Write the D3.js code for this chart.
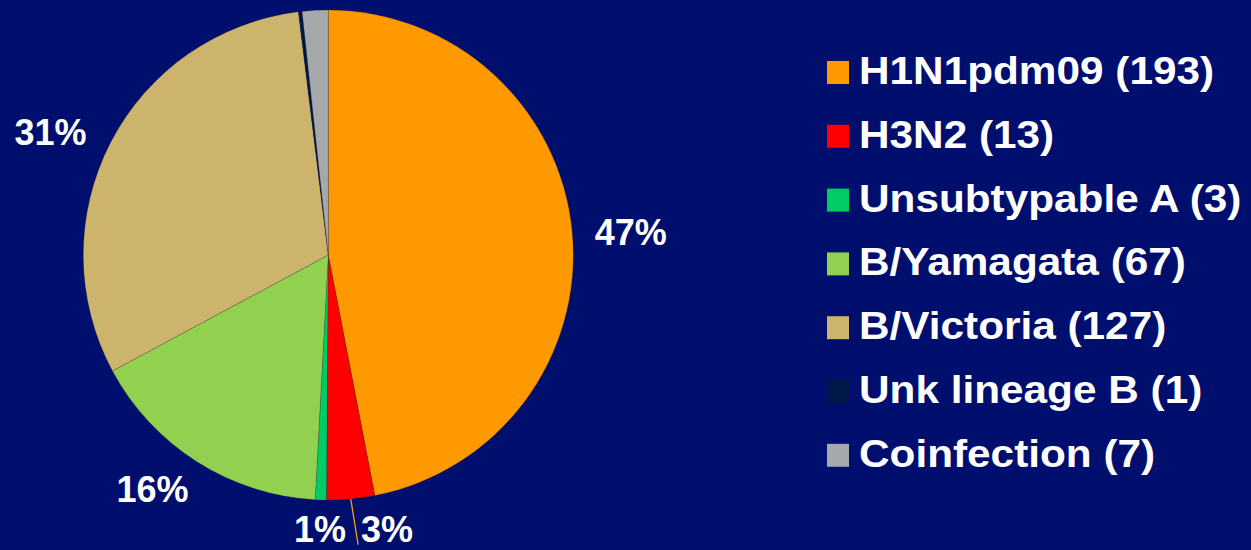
<!DOCTYPE html>
<html>
<head>
<meta charset="utf-8">
<script src="https://cdn.jsdelivr.net/npm/d3@7"></script>
<style>
  html, body { margin: 0; padding: 0; background: #000E6E; }
  svg { display: block; }
  text { font-family: Arial, "Liberation Sans", sans-serif; font-weight: bold; fill: #fff; }
</style>
</head>
<body>
<svg id="chart" width="1251" height="550"></svg>
<script>
// Influenza subtype counts
const categories = ["H1N1pdm09", "H3N2", "Unsubtypable A", "B/Yamagata", "B/Victoria", "Unk lineage B", "Coinfection"];
const counts     = [193, 13, 3, 67, 127, 1, 7];
const colors     = ["#FF9900", "#FF0000", "#00CC66", "#92D050", "#CDB46C", "#001848", "#A5A9A9"];
// which slices carry a percentage label
const showLabel  = [true, true, true, true, true, false, false];
// hand-placed offsets for the percentage labels (layout only)
const labelNudge = [[0, 6], [31, -29], [1, -30], [-13, -22], [-8, 17], [0, 0], [0, 0]];

const W = 1251, H = 550;
const cx = 328.3, cy = 255, R = 245;
const svg = d3.select("#chart");

svg.append("rect").attr("width", W).attr("height", H).attr("fill", "#000E6E");

const total = d3.sum(counts);
const data = categories.map((c, i) => ({ name: c, value: counts[i], color: colors[i], idx: i }));

const pie = d3.pie().value(d => d.value).sort(null);
const arcs = pie(data);
const arc = d3.arc().innerRadius(0).outerRadius(R);
const labelArc = d3.arc().innerRadius(R * 1.24).outerRadius(R * 1.24);

const g = svg.append("g").attr("transform", `translate(${cx},${cy})`);

g.selectAll("path.slice")
  .data(arcs)
  .join("path")
  .attr("class", "slice")
  .attr("d", arc)
  .attr("fill", d => d.data.color)
  .attr("stroke", "rgba(60,40,40,0.35)")
  .attr("stroke-width", 0.6);

// percentage labels
const fmt = v => Math.round(v / total * 100) + "%";
const labelled = arcs.filter(d => showLabel[d.data.idx]);
const labelPos = d => {
  const c = labelArc.centroid(d);
  const n = labelNudge[d.data.idx];
  return [c[0] + n[0], c[1] + n[1]];
};

const labels = g.selectAll("text.pct")
  .data(labelled)
  .join("text")
  .attr("class", "pct")
  .attr("x", d => labelPos(d)[0])
  .attr("y", d => labelPos(d)[1] + 13)
  .attr("text-anchor", "middle")
  .attr("font-size", 36)
  .text(d => fmt(d.data.value));

// leader line for the small H3N2 slice
labels.filter(d => d.data.idx === 1).each(function(d) {
  const bb = this.getBBox();
  const mid = (d.startAngle + d.endAngle) / 2;
  const p0 = [R * Math.sin(mid), -R * Math.cos(mid)];
  const p1 = [bb.x - 3, labelPos(d)[1] + 16];
  g.append("line")
    .attr("x1", p0[0]).attr("y1", p0[1])
    .attr("x2", p1[0]).attr("y2", p1[1])
    .attr("stroke", "#F0A30A")
    .attr("stroke-width", 1.3);
});

// legend
const legend = svg.append("g").attr("transform", "translate(827,84)");
const rowH = 63.8;
const item = legend.selectAll("g.item")
  .data(data)
  .join("g")
  .attr("class", "item")
  .attr("transform", (d, i) => `translate(0,${i * rowH})`);

item.append("rect")
  .attr("x", 0).attr("y", -23)
  .attr("width", 22).attr("height", 23)
  .attr("fill", d => d.color);

item.append("text")
  .attr("transform", "translate(32,0) scale(1.085,1)")
  .attr("font-size", 39)
  .text(d => `${d.name} (${d.value})`);
</script>
</body>
</html>
